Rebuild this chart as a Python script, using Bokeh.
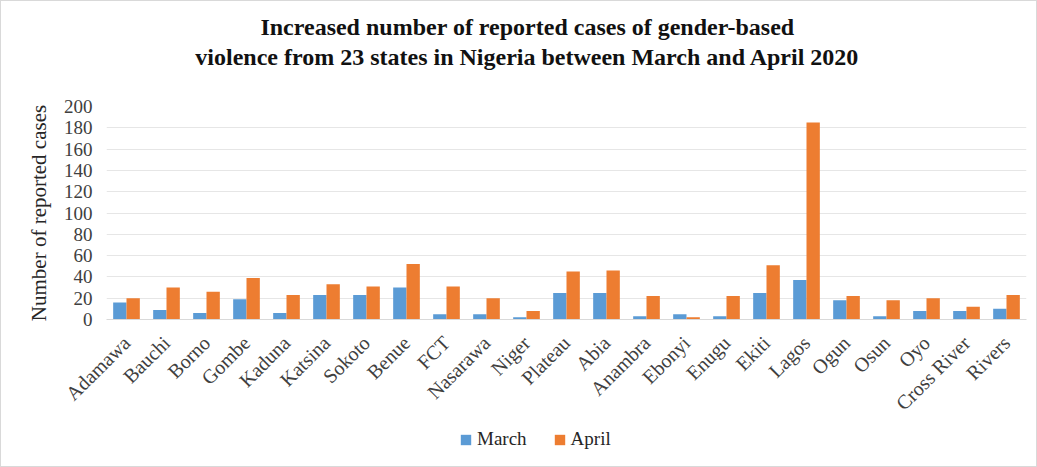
from bokeh.plotting import figure
from bokeh.layouts import column
from bokeh.models import (FactorRange, Range1d, Legend, LegendItem,
                          ColumnDataSource)
from bokeh.core.properties import value
from bokeh.transform import dodge
from bokeh.embed import file_html
from bokeh.resources import INLINE
import math

states = ["Adamawa", "Bauchi", "Borno", "Gombe", "Kaduna", "Katsina", "Sokoto",
          "Benue", "FCT", "Nasarawa", "Niger", "Plateau", "Abia", "Anambra",
          "Ebonyi", "Enugu", "Ekiti", "Lagos", "Ogun", "Osun", "Oyo",
          "Cross River", "Rivers"]
march = [16, 9, 6, 19, 6, 23, 23, 30, 5, 5, 2, 25, 25, 3, 5, 3, 25, 37, 18, 3, 8, 8, 10]
april = [20, 30, 26, 39, 23, 33, 31, 52, 31, 20, 8, 45, 46, 22, 2, 22, 51, 185, 22, 18, 20, 12, 23]
y_ticks = [0, 20, 40, 60, 80, 100, 120, 140, 160, 180, 200]

title_lines = ["Increased number of reported cases of gender-based",
               "violence from 23 states in Nigeria between March and April 2020"]

SERIF = "Liberation Serif"
BLUE = "#5B9BD5"
ORANGE = "#ED7D31"
W = 1035

# ---- title strip (frame aligned with the chart frame by the column) ----
tf = figure(width=W, height=80, output_backend="svg", toolbar_location=None,
            x_range=Range1d(105, 1025), y_range=Range1d(80, 0),
            min_border=0, min_border_left=0, min_border_right=0,
            min_border_top=0, min_border_bottom=0, outline_line_color=None,
            background_fill_color="white", border_fill_color="white")
tf.axis.visible = False
tf.grid.grid_line_color = None
tsrc = ColumnDataSource(dict(x=[526, 526], y=[25, 55], text=title_lines))
tf.text(x="x", y="y", text="text", source=tsrc, text_align="center",
        text_baseline="middle", text_font=value(SERIF), text_font_size="24px",
        text_font_style="bold", text_color="#111111")

# ---- main chart ----
src = ColumnDataSource(dict(state=states, march=march, april=april))
p = figure(width=W, height=344, output_backend="svg", toolbar_location=None,
           x_range=FactorRange(*states, range_padding=0), y_range=Range1d(0, 200),
           min_border_left=105, min_border_right=10, min_border_top=25,
           min_border_bottom=106, outline_line_color=None,
           background_fill_color="white", border_fill_color="white")

r1 = p.vbar(x=dodge("state", -1/6, range=p.x_range), top="march", width=1/3,
            source=src, fill_color=BLUE, line_color=None)
r2 = p.vbar(x=dodge("state", 1/6, range=p.x_range), top="april", width=1/3,
            source=src, fill_color=ORANGE, line_color=None)

p.yaxis.ticker = y_ticks
p.yaxis.axis_label = "Number of reported cases"
p.yaxis.axis_label_text_font = SERIF
p.yaxis.axis_label_text_font_size = "21px"
p.yaxis.axis_label_text_font_style = "normal"
p.yaxis.axis_label_text_color = "#262626"
p.yaxis.axis_label_standoff = 10
p.yaxis.major_label_text_font = SERIF
p.yaxis.major_label_text_font_size = "19px"
p.yaxis.major_label_text_color = "#404040"
p.yaxis.axis_line_color = None
p.yaxis.major_tick_line_color = None
p.yaxis.minor_tick_line_color = None
p.yaxis.major_label_standoff = 8

p.xaxis.major_label_orientation = math.pi / 4
p.xaxis.major_label_text_font = SERIF
p.xaxis.major_label_text_font_size = "20px"
p.xaxis.major_label_text_color = "#404040"
p.xaxis.axis_line_color = "#d9d9d9"
p.xaxis.major_tick_line_color = None
p.xaxis.major_label_standoff = 14

p.xgrid.grid_line_color = None
p.ygrid.grid_line_color = "#e6e6e6"
p.ygrid.ticker = y_ticks

# ---- legend strip underneath the chart ----
lf = figure(width=W, height=41, output_backend="svg", toolbar_location=None,
            x_range=Range1d(0, 1), y_range=Range1d(0.1, 1), min_border=0,
            min_border_left=0, min_border_right=0, min_border_top=0,
            min_border_bottom=0, outline_line_color=None,
            background_fill_color="white", border_fill_color="white")
lf.axis.visible = False
lf.grid.grid_line_color = None
off = ColumnDataSource(dict(x=[0.5], top=[0]))
g1 = lf.vbar(x="x", top="top", width=0.1, source=off, fill_color=BLUE, line_color=None)
g2 = lf.vbar(x="x", top="top", width=0.1, source=off, fill_color=ORANGE, line_color=None)
legend = Legend(items=[LegendItem(label="March", renderers=[g1]),
                       LegendItem(label="April", renderers=[g2])],
                orientation="horizontal", location=(353, 16),
                label_text_font=SERIF, label_text_font_size="19px",
                label_text_color="#262626", glyph_width=13, glyph_height=13,
                label_standoff=5, spacing=26, border_line_color=None,
                background_fill_alpha=0, padding=0, margin=0)
lf.add_layout(legend, "center")

layout = column(tf, p, lf, spacing=0, styles={"border": "1px solid #d9d9d9"})

open("out.html", "w").write(file_html(layout, INLINE))
